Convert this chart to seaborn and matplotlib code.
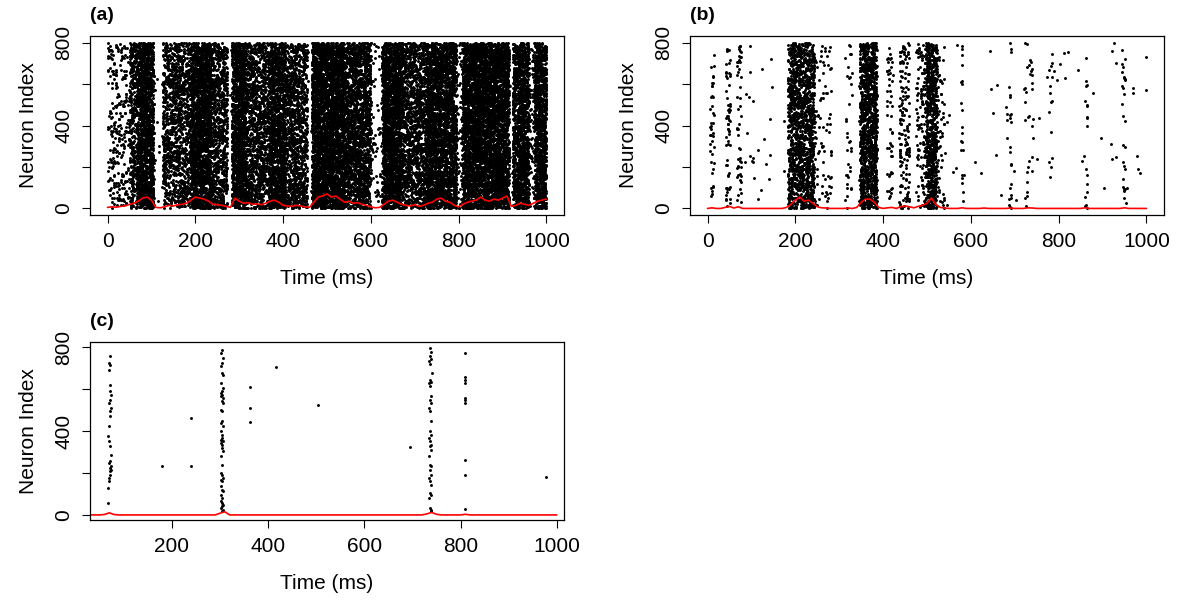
import numpy as np
import pandas as pd
import matplotlib
matplotlib.use("Agg")
import matplotlib.pyplot as plt
import seaborn as sns

# --- spike bursts read off rasters (a) and (b) ---
# (start ms, end ms, number of spikes, lowest neuron, highest neuron)
bursts_a = [
    (0, 50, 260, 0, 800), (50, 70, 400, 0, 800), (70, 105, 1400, 0, 800),
    (105, 125, 10, 0, 800), (125, 190, 1100, 0, 800), (190, 235, 1800, 0, 800),
    (235, 273, 750, 0, 800), (273, 283, 5, 0, 800), (283, 315, 1300, 0, 800),
    (315, 368, 1100, 0, 800), (368, 405, 1350, 0, 800), (405, 455, 1050, 0, 800),
    (455, 465, 5, 0, 800), (465, 540, 3200, 0, 800), (540, 600, 1700, 0, 800),
    (600, 625, 50, 0, 800), (625, 672, 1900, 0, 800), (672, 725, 1150, 0, 800),
    (725, 795, 2600, 0, 800), (795, 808, 52, 0, 800), (808, 915, 4300, 0, 800),
    (915, 923, 4, 0, 800), (923, 960, 1300, 0, 800), (960, 972, 60, 0, 800),
    (972, 1000, 1000, 0, 800),
]
bursts_b = [
    (5, 15, 40, 30, 760), (42, 52, 60, 10, 790), (66, 77, 50, 20, 790),
    (80, 180, 25, 0, 800), (183, 243, 1300, 0, 800), (243, 282, 80, 0, 800),
    (312, 328, 35, 0, 800), (346, 386, 1100, 0, 800), (408, 422, 50, 0, 800),
    (436, 460, 150, 0, 800), (475, 497, 120, 0, 800), (497, 522, 650, 0, 800),
    (522, 540, 60, 0, 800), (540, 1000, 60, 0, 800), (578, 584, 20, 0, 800),
    (687, 693, 20, 0, 800), (722, 742, 30, 0, 800), (776, 786, 12, 0, 800),
    (858, 866, 18, 0, 800), (944, 952, 25, 0, 800),
]

# --- raster (c) is sparse, read spike by spike ---
spikes_c_time = (
    [72, 70, 71, 70, 72, 71, 73, 72, 70, 74, 72, 71, 69, 68, 70, 71, 73, 72, 70, 74,
     71, 73, 72, 71, 70, 69, 68, 67]
    + [179, 239, 239]
    + [305, 303, 306, 304, 302, 305, 307, 303, 306, 304, 302, 305, 303, 306, 304, 307,
       303, 305, 304, 302, 306, 303, 305, 304, 302, 306, 303, 305, 304, 306, 302, 305,
       303, 304, 306, 302, 305, 303, 304, 306, 302, 305, 303, 304, 306, 305, 303, 307, 304]
    + [363, 363, 363, 417, 503, 694]
    + [737, 739, 736, 738, 735, 737, 740, 736, 738, 735, 737, 739, 736, 738, 735, 737,
       739, 736, 738, 735, 737, 739, 736, 738, 735, 737, 739, 736, 738, 735, 737, 739,
       736, 738, 735, 737, 739, 738]
    + [809, 809, 810, 809, 810, 809, 810, 809, 810, 809]
    + [978]
)
spikes_c_neuron = (
    [756, 724, 716, 692, 621, 589, 573, 549, 533, 510, 494, 470, 422, 375, 351, 327,
     287, 256, 248, 232, 224, 216, 208, 192, 176, 160, 129, 57]
    + [235, 235, 460]
    + [787, 771, 748, 724, 708, 676, 668, 629, 605, 589, 581, 573, 565, 557, 541, 533,
       502, 494, 446, 438, 422, 398, 383, 367, 359, 351, 343, 335, 319, 303, 280, 240,
       200, 192, 176, 168, 160, 137, 121, 113, 97, 81, 65, 57, 49, 41, 33, 25, 17]
    + [608, 510, 443, 706, 524, 322]
    + [795, 776, 756, 744, 732, 719, 676, 644, 636, 629, 613, 565, 549, 533, 510, 494,
       446, 398, 383, 367, 351, 335, 327, 311, 280, 240, 232, 216, 192, 176, 160, 144,
       105, 97, 81, 33, 25, 17]
    + [773, 656, 644, 629, 560, 549, 533, 264, 189, 29]
    + [179]
)

# --- population activity (red line), every 10 ms ---
rate_time = list(range(0, 1001, 10))
rate_a = [5, 8, 6, 10, 12, 20, 25, 35, 50, 55, 40, 5, 3, 8, 15, 12, 18, 20, 25, 40,
          55, 50, 45, 35, 20, 18, 15, 10, 5, 50, 35, 25, 28, 20, 22, 18, 25, 35, 40, 30,
          15, 12, 10, 15, 12, 8, 5, 30, 55, 60, 70, 55, 60, 45, 30, 35, 25, 28, 20, 15,
          8, 3, 5, 20, 35, 40, 30, 20, 15, 12, 18, 10, 15, 25, 30, 45, 50, 35, 30, 15,
          8, 20, 30, 35, 40, 55, 40, 35, 45, 40, 50, 60, 10, 15, 25, 20, 15, 25, 35, 40,
          45]
rate_b = [0, 3, 0, 0, 5, 10, 2, 8, 0, 0, 0, 0, 0, 0, 0, 0, 0, 0, 5, 20,
          40, 55, 35, 40, 25, 8, 3, 2, 0, 0, 0, 0, 2, 0, 5, 30, 45, 45, 30, 5,
          0, 3, 5, 0, 8, 12, 8, 3, 10, 15, 25, 50, 20, 5, 2, 0, 0, 0, 3, 0,
          0, 0, 0, 2, 0, 0, 0, 0, 0, 2, 0, 0, 0, 3, 2, 0, 0, 0, 0, 0,
          0, 0, 0, 0, 0, 0, 3, 0, 0, 0, 0, 0, 0, 0, 0, 3, 0, 0, 0, 0,
          0]
rate_c = [0, 0, 0, 0, 0, 0, 2, 10, 2, 0, 0, 0, 0, 0, 0, 0, 0, 0, 0, 0,
          0, 0, 0, 0, 0, 0, 0, 0, 0, 0, 8, 15, 0, 0, 0, 0, 0, 0, 0, 0,
          0, 0, 0, 0, 0, 0, 0, 0, 0, 0, 0, 0, 0, 0, 0, 0, 0, 0, 0, 0,
          0, 0, 0, 0, 0, 0, 0, 0, 0, 0, 0, 0, 0, 5, 12, 3, 0, 0, 0, 0,
          0, 3, 0, 0, 0, 0, 0, 0, 0, 0, 0, 0, 0, 0, 0, 0, 0, 0, 0, 0,
          0]

x_ticks_ab = [0, 200, 400, 600, 800, 1000]
x_ticks_c = [200, 400, 600, 800, 1000]
y_ticks = [0, 200, 400, 600, 800]
y_tick_labels = ["0", "", "400", "", "800"]


def bursts_to_frame(bursts, seed):
    # single spikes inside a burst can't be read; spread them over the window
    rng = np.random.default_rng(seed)
    t, n = [], []
    for t0, t1, count, lo, hi in bursts:
        t.append(rng.uniform(t0, t1, count))
        n.append(rng.integers(lo, hi + 1, count))
    return pd.DataFrame({"time": np.concatenate(t), "neuron": np.concatenate(n)})


spikes_a = bursts_to_frame(bursts_a, 1)
spikes_b = bursts_to_frame(bursts_b, 2)
spikes_c = pd.DataFrame({"time": spikes_c_time, "neuron": spikes_c_neuron})

sns.set_theme(style="ticks")
plt.rcParams["font.family"] = ["Liberation Sans", "DejaVu Sans"]
plt.rcParams["text.color"] = "black"
plt.rcParams["axes.labelcolor"] = "black"

fig = plt.figure(figsize=(12, 6.11), dpi=100)
ax_a = fig.add_axes([0.075, 0.648, 0.395, 0.293])
ax_b = fig.add_axes([0.575, 0.648, 0.395, 0.293])
ax_c = fig.add_axes([0.075, 0.149, 0.395, 0.291])

panels = [
    (ax_a, spikes_a, rate_a, x_ticks_ab, (-40, 1040), (-32, 832), "(a)"),
    (ax_b, spikes_b, rate_b, x_ticks_ab, (-40, 1040), (-32, 832), "(b)"),
    (ax_c, spikes_c, rate_c, x_ticks_c, (30, 1015), (-24, 824), "(c)"),
]

for ax, spikes, rate, xt, xlim, ylim, tag in panels:
    sns.scatterplot(data=spikes, x="time", y="neuron", ax=ax, color="black",
                    s=4.5, marker="o", linewidth=0, legend=False)
    sns.lineplot(x=rate_time, y=rate, ax=ax, color="red", lw=1.2)
    ax.set_xticks(xt)
    ax.set_yticks(y_ticks)
    ax.set_yticklabels(y_tick_labels)
    ax.set_xlim(*xlim)
    ax.set_ylim(*ylim)
    for lab in ax.get_yticklabels():
        lab.set_rotation(90)
        lab.set_va("center")
    ax.tick_params(direction="out", length=6, width=0.8, labelsize=15, pad=6, colors="black")
    for sp in ax.spines.values():
        sp.set_visible(True)
        sp.set_color("black")
        sp.set_linewidth(0.9)
    ax.set_xlabel("Time (ms)", fontsize=15, labelpad=13)
    ax.set_ylabel("Neuron Index", fontsize=15, labelpad=12)
    ax.annotate(tag, xy=(0, 1), xycoords="axes fraction", xytext=(0, 9),
                textcoords="offset points", ha="left", va="bottom",
                fontsize=14, fontweight="bold")

fig.savefig("out.png", dpi=100)
